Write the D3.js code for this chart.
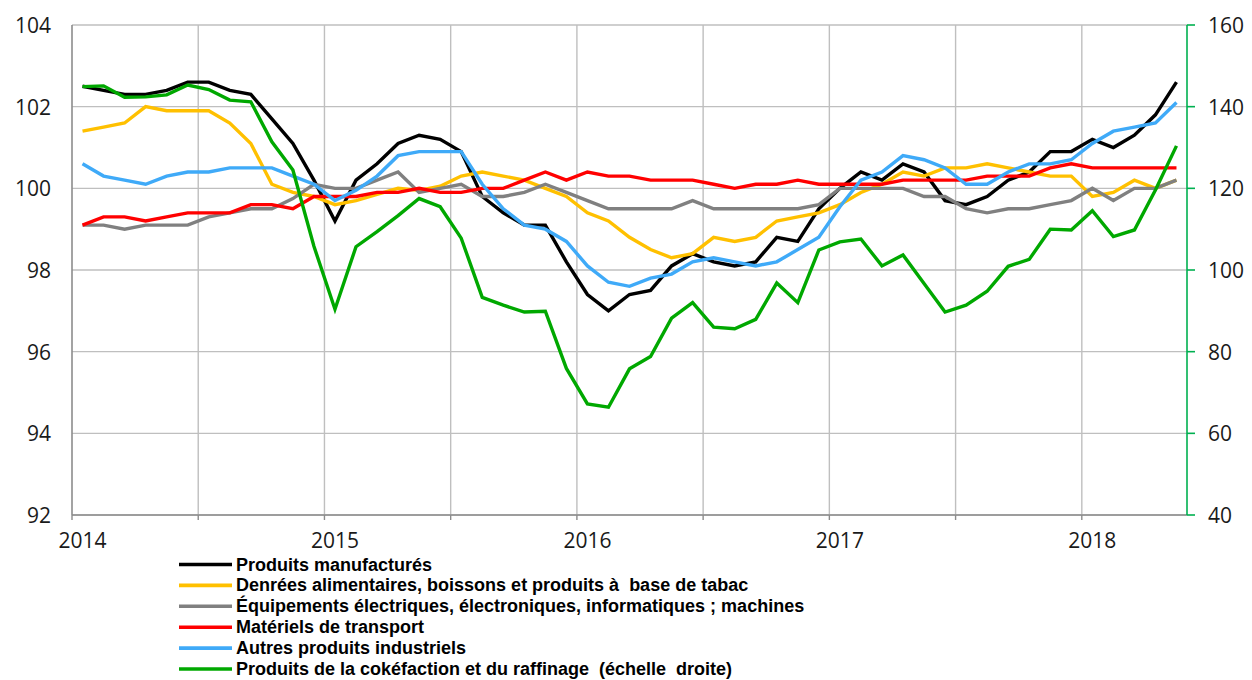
<!DOCTYPE html>
<html>
<head>
<meta charset="utf-8">
<script src="https://cdn.jsdelivr.net/npm/d3@7"></script>
<style>
  html, body { margin: 0; padding: 0; background: #fff; }
  svg { display: block; font-family: "Open Sans", "Noto Sans", sans-serif; }
</style>
</head>
<body>
<svg id="chart" width="1252" height="680"></svg>
<script>
// ---- data (monthly, Jan 2014 .. May 2018) ----
const months = d3.timeMonth.range(new Date(2014, 0, 1), new Date(2018, 5, 1));

const seriesNames = [
  "Produits manufacturés",
  "Denrées alimentaires, boissons et produits à  base de tabac",
  "Équipements électriques, électroniques, informatiques ; machines",
  "Matériels de transport",
  "Autres produits industriels",
  "Produits de la cokéfaction et du raffinage  (échelle  droite)"
];
const seriesColors = ["#000000", "#FFC000", "#808080", "#FF0000", "#3FAAF8", "#00A800"];

const manufactures = [
  102.5, 102.4, 102.3, 102.3, 102.4, 102.6, 102.6, 102.4, 102.3, 101.7, 101.1, 100.2,
  99.2, 100.2, 100.6, 101.1, 101.3, 101.2, 100.9, 99.8, 99.4, 99.1, 99.1, 98.2,
  97.4, 97.0, 97.4, 97.5, 98.1, 98.4, 98.2, 98.1, 98.2, 98.8, 98.7, 99.5,
  100.0, 100.4, 100.2, 100.6, 100.4, 99.7, 99.6, 99.8, 100.2, 100.4, 100.9, 100.9,
  101.2, 101.0, 101.3, 101.8, 102.6
];
const denrees = [
  101.4, 101.5, 101.6, 102.0, 101.9, 101.9, 101.9, 101.6, 101.1, 100.1, 99.9, 99.8,
  99.6, 99.7, 99.85, 100.0, 99.95, 100.05, 100.3, 100.4, 100.3, 100.2, 100.0, 99.8,
  99.4, 99.2, 98.8, 98.5, 98.3, 98.4, 98.8, 98.7, 98.8, 99.2, 99.3, 99.4,
  99.6, 99.9, 100.1, 100.4, 100.3, 100.5, 100.5, 100.6, 100.5, 100.4, 100.3, 100.3,
  99.8, 99.9, 100.2, 100.0, 100.2
];
const equipements = [
  99.1, 99.1, 99.0, 99.1, 99.1, 99.1, 99.3, 99.4, 99.5, 99.5, 99.75, 100.1,
  100.0, 100.0, 100.2, 100.4, 99.9, 100.0, 100.1, 99.8, 99.8, 99.9, 100.1, 99.9,
  99.7, 99.5, 99.5, 99.5, 99.5, 99.7, 99.5, 99.5, 99.5, 99.5, 99.5, 99.6,
  100.0, 100.0, 100.0, 100.0, 99.8, 99.8, 99.5, 99.4, 99.5, 99.5, 99.6, 99.7,
  100.0, 99.7, 100.0, 100.0, 100.2
];
const transport = [
  99.1, 99.3, 99.3, 99.2, 99.3, 99.4, 99.4, 99.4, 99.6, 99.6, 99.5, 99.8,
  99.8, 99.8, 99.9, 99.9, 100.0, 99.9, 99.9, 100.0, 100.0, 100.2, 100.4, 100.2,
  100.4, 100.3, 100.3, 100.2, 100.2, 100.2, 100.1, 100.0, 100.1, 100.1, 100.2, 100.1,
  100.1, 100.1, 100.1, 100.2, 100.2, 100.2, 100.2, 100.3, 100.3, 100.3, 100.5, 100.6,
  100.5, 100.5, 100.5, 100.5, 100.5
];
const autres = [
  100.6, 100.3, 100.2, 100.1, 100.3, 100.4, 100.4, 100.5, 100.5, 100.5, 100.3, 100.1,
  99.7, 99.95, 100.3, 100.8, 100.9, 100.9, 100.9, 100.1, 99.5, 99.1, 99.0, 98.7,
  98.1, 97.7, 97.6, 97.8, 97.9, 98.2, 98.3, 98.2, 98.1, 98.2, 98.5, 98.8,
  99.55, 100.2, 100.4, 100.8, 100.7, 100.5, 100.1, 100.1, 100.4, 100.6, 100.6, 100.7,
  101.1, 101.4, 101.5, 101.6, 102.1
];
const cokefaction = [
  144.9, 145.1, 142.3, 142.4, 142.9, 145.3, 144.2, 141.6, 141.2, 131.4, 124.5, 105.8,
  90.4, 105.7, 109.4, 113.3, 117.5, 115.5, 107.8, 93.3, 91.4, 89.7, 89.9, 75.9,
  67.2, 66.4, 75.8, 78.8, 88.2, 92.0, 86.0, 85.6, 87.9, 96.8, 92.0, 104.9,
  106.9, 107.6, 101.0, 103.7, 96.7, 89.7, 91.4, 94.8, 100.9, 102.6, 110.0, 109.8,
  114.5, 108.2, 109.8, 119.6, 130.4
];

const leftTicks = [92, 94, 96, 98, 100, 102, 104];
const rightTicks = [40, 60, 80, 100, 120, 140, 160];
const yearLabels = ["2014", "2015", "2016", "2017", "2018"];

// ---- layout ----
const L = 72, R = 1187, T = 25, B = 515;
const svg = d3.select("#chart");

const x = d3.scaleLinear().domain([0, months.length]).range([L, R]);
const yL = d3.scaleLinear().domain([92, 104]).range([B, T]);
const yR = d3.scaleLinear().domain([40, 160]).range([B, T]);

const gridColor = "#BFBFBF";

// horizontal gridlines
svg.append("g").selectAll("line").data(leftTicks).join("line")
  .attr("x1", L).attr("x2", R)
  .attr("y1", d => yL(d)).attr("y2", d => yL(d))
  .attr("stroke", gridColor).attr("stroke-width", 1.4);

// vertical gridlines every 6 months
const halfYears = d3.range(6, months.length, 6);
svg.append("g").selectAll("line").data(halfYears).join("line")
  .attr("x1", d => x(d)).attr("x2", d => x(d))
  .attr("y1", T).attr("y2", B)
  .attr("stroke", gridColor).attr("stroke-width", 1.4);

// bottom axis line + ticks
svg.append("line").attr("x1", L).attr("x2", R).attr("y1", B).attr("y2", B)
  .attr("stroke", "#8C8C8C").attr("stroke-width", 1.6);
svg.append("g").selectAll("line").data(d3.range(0, months.length, 6)).join("line")
  .attr("x1", d => x(d)).attr("x2", d => x(d))
  .attr("y1", B).attr("y2", B + 5)
  .attr("stroke", "#8C8C8C").attr("stroke-width", 1.4);

// left axis line
svg.append("line").attr("x1", L).attr("x2", L).attr("y1", T).attr("y2", B)
  .attr("stroke", "#8C8C8C").attr("stroke-width", 1.6);

// left tick labels
svg.append("g").selectAll("text").data(leftTicks).join("text")
  .attr("x", 51).attr("y", d => yL(d))
  .attr("text-anchor", "end").attr("dominant-baseline", "central")
  .attr("font-size", 21).attr("fill", "#1a1a1a")
  .text(d => d);

// right axis (green)
const green = "#00B050";
svg.append("line").attr("x1", R).attr("x2", R).attr("y1", T).attr("y2", B)
  .attr("stroke", green).attr("stroke-width", 1.6);
svg.append("g").selectAll("line").data(rightTicks).join("line")
  .attr("x1", R).attr("x2", R + 8)
  .attr("y1", d => yR(d)).attr("y2", d => yR(d))
  .attr("stroke", green).attr("stroke-width", 1.6);
svg.append("g").selectAll("text").data(rightTicks).join("text")
  .attr("x", 1208).attr("y", d => yR(d))
  .attr("text-anchor", "start").attr("dominant-baseline", "central")
  .attr("font-size", 21).attr("fill", "#1a1a1a")
  .text(d => d);

// year labels (centred on January)
svg.append("g").selectAll("text").data(yearLabels).join("text")
  .attr("x", (d, i) => x(i * 12 + 0.5)).attr("y", 540)
  .attr("text-anchor", "middle").attr("dominant-baseline", "central")
  .attr("font-size", 21).attr("fill", "#1a1a1a")
  .text(d => d);

// ---- lines ----
const leftSeries = [manufactures, denrees, equipements, transport, autres];
const lineL = d3.line().x((d, i) => x(i + 0.5)).y(d => yL(d));
const lineR = d3.line().x((d, i) => x(i + 0.5)).y(d => yR(d));

const g = svg.append("g").attr("fill", "none")
  .attr("stroke-width", 3.4).attr("stroke-linejoin", "miter").attr("stroke-linecap", "butt");
leftSeries.forEach((s, k) => {
  g.append("path").attr("d", lineL(s)).attr("stroke", seriesColors[k]);
});
g.append("path").attr("d", lineR(cokefaction)).attr("stroke", seriesColors[5]);

// ---- legend ----
const lg = svg.append("g")
  .style("font-family", '"Liberation Sans", Arial, sans-serif')
  .attr("font-weight", "bold");
const texts = [];
seriesNames.forEach((name, k) => {
  const yy = 564.5 + k * 20.9;
  lg.append("line").attr("x1", 179).attr("x2", 232).attr("y1", yy).attr("y2", yy)
    .attr("stroke", seriesColors[k]).attr("stroke-width", 3.6);
  texts.push(lg.append("text").attr("x", 236).attr("y", yy)
    .attr("dominant-baseline", "central")
    .attr("font-size", 16).attr("fill", "#000")
    .style("white-space", "pre")
    .text(name));
});
// fit legend font so the longest entry spans as in the reference (~574px)
const widest = d3.max(texts, t => t.node().getComputedTextLength());
const fs = Math.min(18, 16 * 574 / widest);
texts.forEach(t => t.attr("font-size", fs));
</script>
</body>
</html>
